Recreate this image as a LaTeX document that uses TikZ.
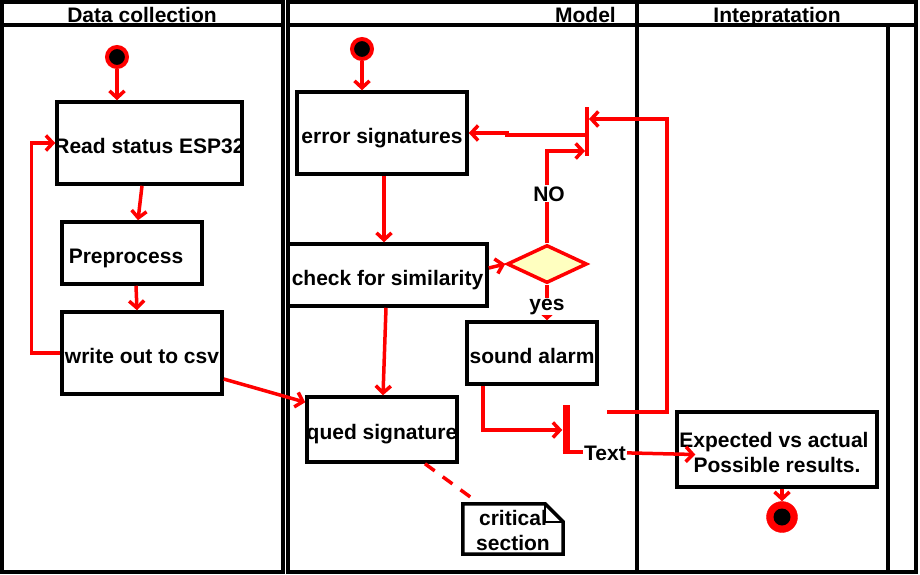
\documentclass[tikz,border=0pt]{standalone}
\usepackage{fontspec}
\setmainfont{Liberation Sans}
\usetikzlibrary{arrows.meta,shapes.geometric}
\definecolor{dyellow}{HTML}{FFFFC0}
\newcommand{\bl}[1]{\makebox[0pt]{\raisebox{-10pt}[0pt][0pt]{#1}}}
\begin{document}
\begin{tikzpicture}[x=1pt,y=-1pt,
  lane/.style={draw=black,line width=3.5pt},
  actbox/.style={draw=black,line width=3.5pt,fill=white,inner sep=0pt,font=\fontsize{21}{25}\selectfont\bfseries},
  lbl/.style={inner sep=1pt,font=\fontsize{21}{25}\selectfont\bfseries},
  flow/.style={draw=red,line width=3.5pt},
  arr/.style={flow,-{Straight Barb[length=7pt,width=15pt]}},
  startn/.style={circle,fill=black,draw=red,line width=4pt,minimum size=20pt,inner sep=0pt},
  barn/.style={fill=red,inner sep=0pt}
]
\useasboundingbox (0,0) rectangle (920,574);
% lanes
\draw[lane] (2,2) rectangle (283,572);
\draw[lane] (2,25) -- (283,25);
\draw[lane] (288,2) rectangle (637,572);
\draw[lane] (288,25) -- (637,25);
\draw[lane] (637,2) rectangle (916,572);
\draw[lane] (637,25) -- (916,25);
\draw[lane] (888,25) -- (888,572);
\node[lbl,anchor=base] (h1) at (142,22) {Data collection};
\node[lbl,anchor=base east] (h2) at (617,22) {Model};
\node[lbl,anchor=base] (h3) at (777,22) {Intepratation};

% nodes lane 1
\node[startn] (s1) at (117,57) {};
\node[actbox,minimum width=185pt,minimum height=82pt] (read) at (149.5,143) {\bl{Read status ESP32}};
\node[actbox,minimum width=140pt,minimum height=62pt] (pre) at (132,253) {\bl{Preprocess\hspace*{12pt}}};
\node[actbox,minimum width=160pt,minimum height=82pt] (write) at (142,353) {\bl{write out to csv}};

% nodes lane 2
\node[startn] (s2) at (362,49) {};
\node[actbox,minimum width=170pt,minimum height=82pt] (err) at (382,133) {\bl{error signatures}};
\node[actbox,minimum width=199pt,minimum height=62pt] (check) at (387.5,275) {\bl{check for similarity}};
\node[actbox,minimum width=150pt,minimum height=65pt] (qued) at (382,429.5) {\bl{qued signature}};
\node[diamond,aspect=2,draw=red,line width=3.5pt,fill=dyellow,minimum width=80pt,minimum height=38pt,inner sep=0pt] (dia) at (547,264) {};
\node[actbox,minimum width=130pt,minimum height=62pt] (alarm) at (532,353) {\bl{sound alarm}};
\node[barn,minimum width=3.5pt,minimum height=49pt] (bar1) at (587,131.5) {};
\node[barn,minimum width=7pt,minimum height=47pt] (bar2) at (566,428.5) {};
\node[draw=none,minimum width=100pt,minimum height=50pt,inner sep=0pt] (note) at (513,529) {};
\draw[draw=black,line width=3.5pt,fill=white,line join=miter]
  (note.south west) -- (note.north west) -- ([xshift=-18pt]note.north east) -- ([yshift=-18pt]note.north east) -- (note.south east) -- cycle;
\draw[draw=black,line width=2.5pt]
  ([xshift=-18pt]note.north east) -- ([xshift=-18pt,yshift=-18pt]note.north east) -- ([yshift=-18pt]note.north east);
\node[lbl,align=center] (notetxt) at ([yshift=-1.5pt]note.center) {critical\\section};

% lane 3
\node[actbox,minimum width=200pt,minimum height=75pt] (exp) at (777,449.5) {};
\node[lbl,align=center] (exptxt) at ([yshift=-3pt]exp.center) {Expected vs actual\hspace*{6pt}\\Possible results.};
\node[circle,fill=red,draw=red,minimum size=31pt,inner sep=0pt] (endn) at (782,517) {};
\node[circle,fill=black,minimum size=17pt,inner sep=0pt] (endin) at (endn.center) {};

% connectors
\draw[arr] (s1) -- (s1 |- read.north);
\draw[arr] ([xshift=-7.5pt]read.south) -- ([xshift=6pt]pre.north);
\draw[arr] ([xshift=4pt]pre.south) -- ([xshift=-5pt]write.north);
\draw[arr] (write.west) -- ++(-29,0) |- (read.west);
\draw[arr] ([yshift=-26pt]write.east) -- ([yshift=-7pt]qued.north west);
\draw[arr] (s2) -- (s2 |- err.north);
\draw[arr] ([xshift=2pt]err.south) -- ([xshift=-3.5pt]check.north);
\draw[arr] ([xshift=-1.5pt]check.south) -- ([xshift=1pt]qued.north);
\draw[arr] ([yshift=7pt]check.east) -- (dia.west);
\draw[arr] (dia.north) |- ([yshift=-19.5pt]bar1.west);
\node[lbl,fill=white,anchor=base] (no) at (549,201) {NO};
\draw[arr] (dia.south) -- (dia.south |- alarm.north);
\node[lbl,fill=white,anchor=base] (yes) at (547,310) {yes};
\draw[arr] ([yshift=-3.5pt]bar1.west) -- ++(-78,0) |- (err.east);
\coordinate (fb) at (607,412);
\draw[arr] (fb) -- ++(60,0) |- ([yshift=12.5pt]bar1.east);
\draw[arr] ([xshift=-49pt]alarm.south) |- ([yshift=-1.5pt]bar2.west);
\node[lbl,anchor=base] (txt) at (605,460) {Text};
\draw[flow] ([xshift=-3.5pt]bar2.south) -- (bar2.south -| txt.west);
\draw[arr] (txt.east) -- ([xshift=20pt,yshift=-5pt]exp.west);
\draw[arr] (endn |- exp.south) -- (endn.north);
\draw[flow,dash pattern=on 12pt off 10pt] ([xshift=43pt]qued.south) -- ([xshift=10pt,yshift=5pt]note.north west);
\end{tikzpicture}
\end{document}
